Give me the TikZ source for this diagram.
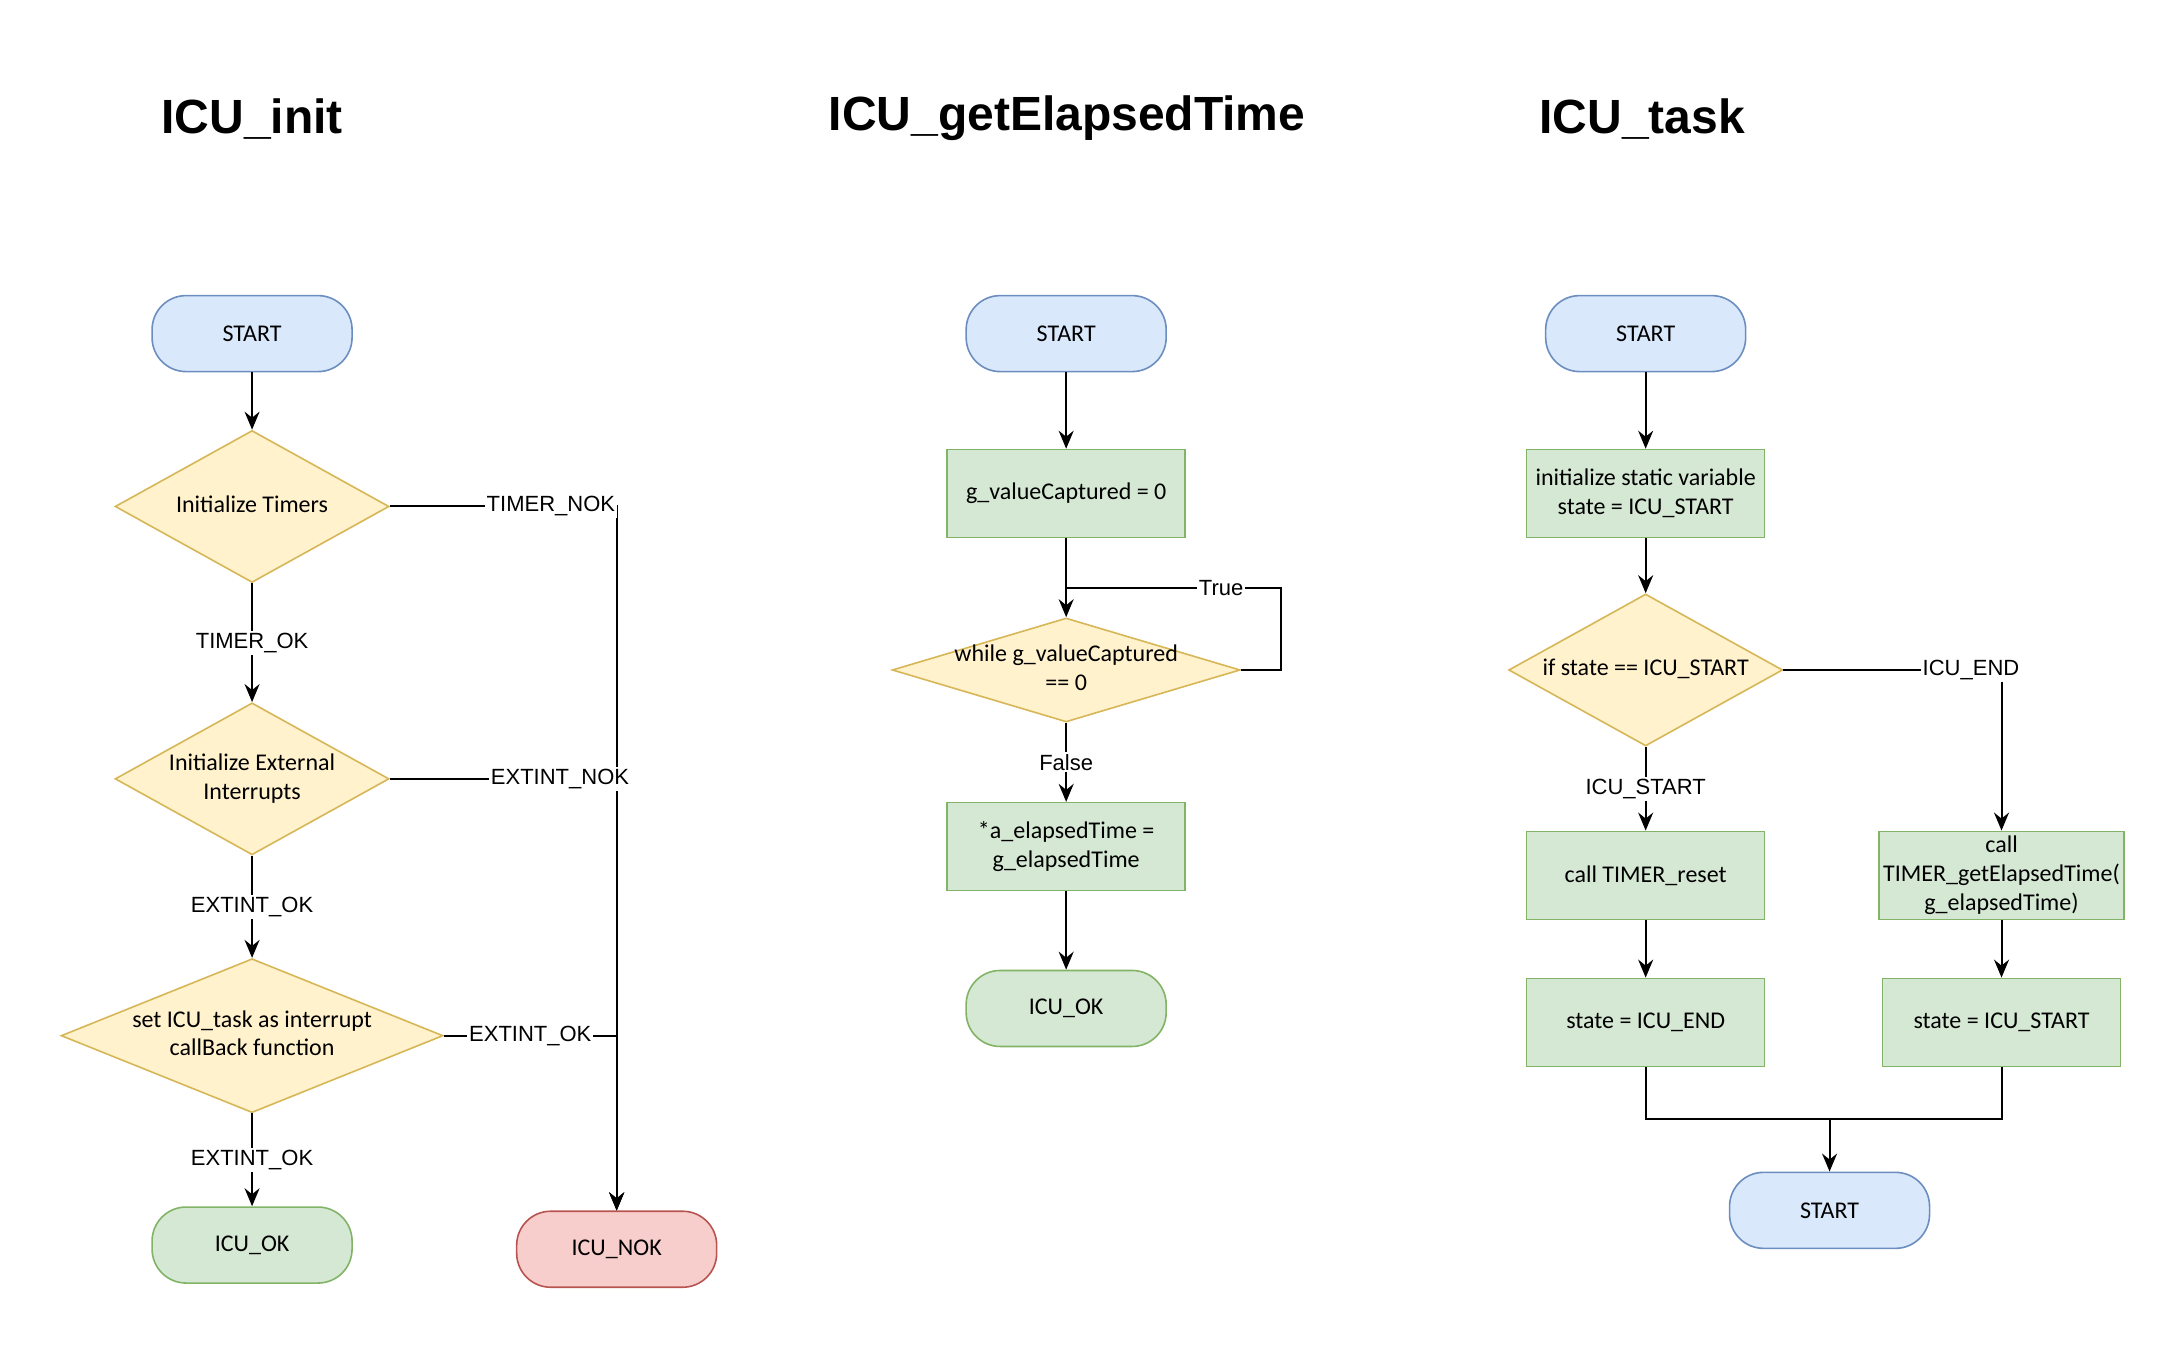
\documentclass[tikz,border=0pt]{standalone}
\usepackage{fontspec}
\setmainfont{Carlito}
\newfontfamily\lblfont{Liberation Sans}
\usetikzlibrary{shapes.geometric,arrows.meta}

\definecolor{bluefill}{HTML}{DAE8FC}
\definecolor{bluedraw}{HTML}{6C8EBF}
\definecolor{yelfill}{HTML}{FFF2CC}
\definecolor{yeldraw}{HTML}{D6B656}
\definecolor{grnfill}{HTML}{D5E8D4}
\definecolor{grndraw}{HTML}{82B366}
\definecolor{redfill}{HTML}{F8CECC}
\definecolor{reddraw}{HTML}{B85450}

% text of a decision, kept out of the size of the diamond
\newcommand{\dtext}[1]{\makebox[0pt]{\begin{tabular}{@{}c@{}}#1\end{tabular}}}

\tikzset{
  nodefont/.style={font=\fontsize{12}{14.4}\selectfont},
  term/.style={rectangle, rounded corners=17pt, minimum width=100pt,
    minimum height=38pt, line width=0.8pt, nodefont},
  termblue/.style={term, fill=bluefill, draw=bluedraw},
  termgreen/.style={term, fill=grnfill, draw=grndraw},
  termred/.style={term, fill=redfill, draw=reddraw},
  procbox/.style={rectangle, minimum width=119pt, minimum height=44pt,
    inner sep=2pt, align=center, fill=grnfill, draw=grndraw,
    line width=0.8pt, nodefont},
  decision/.style={diamond, inner sep=0pt, fill=yelfill, draw=yeldraw,
    line width=0.8pt, nodefont},
  lbl/.style={fill=white, inner sep=1pt, font=\lblfont\fontsize{11}{13}\selectfont},
  title/.style={font=\lblfont\bfseries\fontsize{24}{28}\selectfont},
  arr/.style={-{Stealth[length=9pt,width=7.5pt,inset=3pt]}},
}

\begin{document}
\begin{tikzpicture}[x=0.994pt,y=-0.997pt,line width=1pt]
  \useasboundingbox (-0.8,0) rectangle (1097.8,675);

  % titles
  \node[title] (t1) at (126,59.5) {ICU\_init};
  \node[title] (t2) at (535.9,59.5) {ICU\_getElapsedTime};
  \node[title] (t3) at (825.3,59.5) {ICU\_task};

  % ICU_init
  \node[termblue] (s1) at (126,167.3) {START};
  \node[decision, minimum width=137pt, minimum height=76pt] (d1) at (126,254)
    {\dtext{Initialize Timers}};
  \node[decision, minimum width=137pt, minimum height=76pt] (d2) at (126,390.6)
    {\dtext{Initialize External\\Interrupts}};
  \node[decision, minimum width=191pt, minimum height=77pt] (d3) at (126,519.4)
    {\dtext{set ICU\_task as interrupt\\callBack function}};
  \node[termgreen] (ok1) at (126,624.4) {ICU\_OK};
  \node[termred] (nok) at (309.4,626.5) {ICU\_NOK};

  \draw[arr] (s1) -- (d1);
  \draw[arr] (d1) -- node[lbl]{TIMER\_OK} (d2);
  \draw[arr] (d2) -- node[lbl]{EXTINT\_OK} (d3);
  \draw[arr] (d3) -- node[lbl]{EXTINT\_OK} (ok1);
  \draw[arr] (d1.east) -- node[lbl,pos=0.71]{TIMER\_NOK} (d1.east -| nok.north) -- (nok.north);
  \draw[arr] (d3.east) -- node[lbl]{EXTINT\_OK} (d3.east -| nok.north) -- (nok.north);
  \draw[arr] (d2.east) -- node[lbl,pos=0.75]{EXTINT\_NOK} (d2.east -| nok.north) -- (nok.north);

  % ICU_getElapsedTime
  \node[termblue] (s2) at (535.5,167.3) {START};
  \node[procbox] (b1) at (535.5,247.5) {g\_valueCaptured = 0};
  \node[decision, minimum width=174pt, minimum height=52pt] (w) at (535.5,336)
    {\dtext{while g\_valueCaptured\\== 0}};
  \node[procbox] (b2) at (535.5,424.6) {*a\_elapsedTime =\\g\_elapsedTime};
  \node[termgreen] (ok2) at (535.5,505.75) {ICU\_OK};
  \coordinate (wloop) at (535.5,294.7);

  \draw[arr] (s2) -- (b1);
  \draw[arr] (b1) -- (w);
  \draw (w.east) -- ++(20.3,0) |- node[lbl,pos=0.64]{True} (wloop);
  \draw[arr] (w) -- node[lbl]{False} (b2);
  \draw[arr] (b2) -- (ok2);

  % ICU_task
  \node[termblue] (s3) at (827,167.3) {START};
  \node[procbox] (b3) at (827,247.5) {initialize static variable\\state = ICU\_START};
  \node[decision, minimum width=137pt, minimum height=76pt] (d4) at (827,336)
    {\dtext{if state == ICU\_START}};
  \node[procbox] (b4) at (827,439) {call TIMER\_reset};
  \node[procbox] (b5) at (1006,439) {call\\TIMER\_getElapsedTime(\\g\_elapsedTime)};
  \node[procbox] (b6) at (827,512.75) {state = ICU\_END};
  \node[procbox] (b7) at (1006,512.75) {state = ICU\_START};
  \node[termblue] (fin) at (919.5,607) {START};
  \coordinate (mrg) at (919.5,561.4);

  \draw[arr] (s3) -- (b3);
  \draw[arr] (b3) -- (d4);
  \draw[arr] (d4) -- node[lbl]{ICU\_START} (b4);
  \draw[arr] (d4.east) -| node[lbl,pos=0.43]{ICU\_END} (b5.north);
  \draw[arr] (b4) -- (b6);
  \draw[arr] (b5) -- (b7);
  \draw (b6.south) |- (mrg) -| (b7.south);
  \draw[arr] (mrg) -- (fin);
\end{tikzpicture}
\end{document}
